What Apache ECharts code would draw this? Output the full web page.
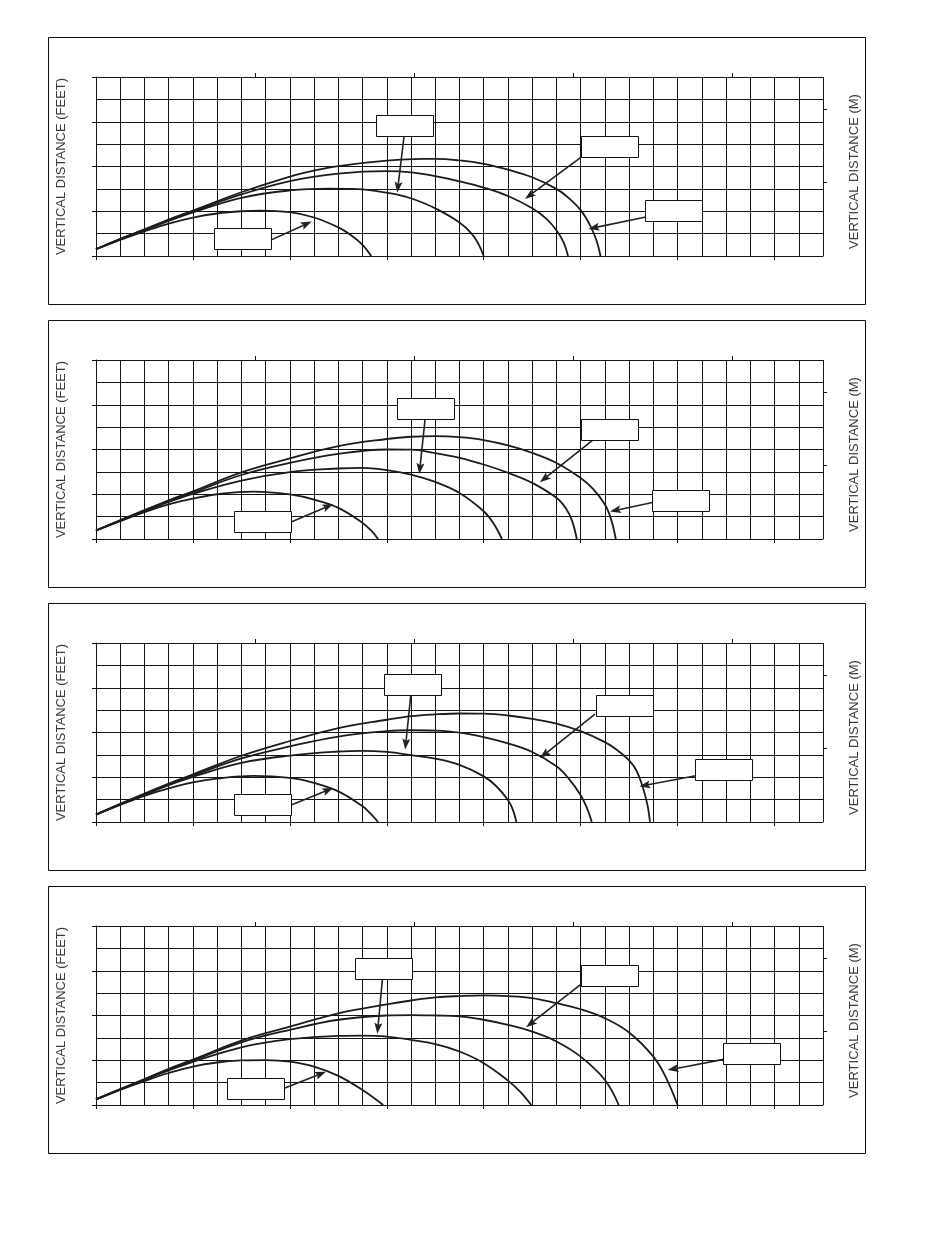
<!DOCTYPE html>
<html>
<head>
<meta charset="utf-8">
<script src="https://cdn.jsdelivr.net/npm/echarts@6/dist/echarts.min.js"></script>
<style>
html, body { margin: 0; padding: 0; background: #fff; }
#chart { width: 950px; height: 1248px; }
</style>
</head>
<body>
<div id="chart"></div>
<script>
// trajectories, [horizontal ft, vertical ft]
var p1A = [[0,0.3],[1,0.72],[2,1.1],[3,1.45],[4,1.72],[5,1.9],[6,2.0],[6.8,2.03],[8,1.96],[9,1.72],[10,1.28],[10.5,0.95],[11,0.5],[11.36,0]];
var p1B = [[0,0.3],[1,0.75],[2,1.15],[3,1.57],[4,1.95],[6,2.6],[8,2.93],[9.6,3.01],[10.6,3.0],[11.7,2.88],[12.4,2.75],[13,2.58],[14,2.13],[15,1.5],[15.5,1.0],[15.8,0.5],[16,0]];
var p1C = [[0,0.3],[1,0.76],[2,1.17],[3,1.6],[4,2.0],[6,2.75],[8,3.35],[10,3.68],[12,3.79],[13,3.74],[14,3.57],[15,3.34],[16,3.06],[17,2.68],[18,2.13],[18.6,1.65],[19,1.15],[19.3,0.6],[19.48,0]];
var p1D = [[0,0.3],[1,0.77],[2,1.19],[3,1.63],[4,2.03],[6,2.85],[8,3.55],[9,3.82],[10,4.02],[12,4.26],[13.5,4.34],[14,4.34],[15,4.27],[16,4.12],[17,3.86],[18,3.52],[19,3.0],[19.5,2.6],[20,2.05],[20.4,1.35],[20.65,0.7],[20.82,0]];

var p2A = [[0,0.38],[1,0.8],[2,1.2],[3,1.55],[4,1.8],[5,2.0],[6.5,2.12],[8,1.99],[9,1.76],[10,1.39],[11,0.72],[11.35,0.38],[11.64,0]];
var p2B = [[0,0.38],[1,0.82],[2,1.24],[3,1.66],[4,2.02],[6,2.61],[8,2.99],[10,3.15],[11,3.18],[12,3.08],[13,2.88],[14,2.55],[15,2.06],[16,1.24],[16.4,0.7],[16.75,0]];
var p2C = [[0,0.38],[1,0.83],[2,1.27],[3,1.7],[4,2.08],[6,2.86],[8,3.4],[10,3.8],[12,4.0],[13,3.99],[14,3.84],[15,3.63],[16,3.33],[17,2.96],[18,2.51],[19,1.84],[19.4,1.35],[19.65,0.8],[19.84,0]];
var p2D = [[0,0.38],[1,0.84],[2,1.29],[3,1.73],[4,2.13],[6,2.98],[8,3.6],[10,4.15],[12,4.47],[13,4.57],[14,4.6],[15,4.55],[16,4.42],[17,4.18],[18,3.85],[19,3.4],[20,2.73],[20.5,2.25],[21,1.54],[21.25,0.9],[21.45,0]];

var p3A = [[0,0.33],[1,0.76],[2,1.17],[3,1.5],[4,1.77],[5,1.94],[6.5,2.06],[8,1.97],[9,1.75],[10,1.37],[11,0.7],[11.35,0.35],[11.64,0]];
var p3B = [[0,0.33],[1,0.79],[2,1.21],[3,1.65],[4,2.02],[6,2.64],[8,2.97],[10,3.15],[11,3.18],[12,3.13],[13,2.99],[14,2.83],[15,2.55],[16,2.04],[16.5,1.62],[17,0.98],[17.2,0.55],[17.35,0]];
var p3C = [[0,0.33],[1,0.8],[2,1.24],[3,1.68],[4,2.08],[6,2.84],[8,3.38],[10,3.82],[12,4.06],[13,4.1],[14,4.08],[15,3.99],[16,3.79],[17,3.51],[18,3.13],[19,2.49],[19.5,1.95],[20,1.2],[20.25,0.65],[20.46,0]];
var p3D = [[0,0.33],[1,0.81],[2,1.27],[3,1.72],[4,2.13],[6,2.96],[8,3.62],[10,4.2],[12,4.57],[13,4.73],[14,4.81],[15,4.85],[16,4.84],[17,4.76],[18,4.61],[19,4.4],[20,4.06],[21,3.57],[21.5,3.22],[22,2.75],[22.3,2.3],[22.55,1.6],[22.75,0.8],[22.86,0]];

var p4A = [[0,0.25],[1,0.68],[2,1.07],[3,1.43],[4,1.72],[5,1.9],[6,1.99],[7,2.01],[8,1.94],[9,1.72],[10,1.3],[11,0.67],[11.85,0]];
var p4B = [[0,0.25],[1,0.7],[2,1.12],[3,1.55],[4,1.93],[6,2.58],[8,2.94],[10,3.09],[11,3.1],[12,3.06],[13,2.91],[14,2.72],[15,2.39],[16,1.87],[17,1.09],[17.5,0.6],[17.96,0]];
var p4C = [[0,0.25],[1,0.7],[2,1.14],[3,1.58],[4,1.98],[6,2.8],[8,3.36],[10,3.81],[12,4.0],[13,4.02],[14,4.0],[15,3.96],[16,3.81],[17,3.58],[18,3.28],[19,2.84],[20,2.16],[21,1.12],[21.57,0]];
var p4D = [[0,0.25],[1,0.71],[2,1.16],[3,1.62],[4,2.03],[6,2.88],[8,3.5],[10,4.1],[12,4.5],[13,4.67],[14,4.81],[15,4.87],[16,4.9],[17,4.87],[18,4.78],[19,4.55],[20,4.28],[21,3.88],[22,3.24],[23,2.16],[23.5,1.27],[24,0]];

// empty label boxes (centre, ft) and their arrows (from x,y -> to x,y, ft)
var p1Boxes = [[12.73,5.84],[21.2,4.9],[23.85,2.02],[6.03,0.77]];
var p1Arrows = [[12.71,5.33,12.43,2.83],[20.02,4.42,17.7,2.55],[22.69,1.74,20.32,1.21],[7.21,0.71,8.9,1.54]];
var p2Boxes = [[13.61,5.83],[21.2,4.89],[24.13,1.72],[6.89,0.77]];
var p2Arrows = [[13.58,5.36,13.34,2.9],[20.5,4.42,18.32,2.54],[22.96,1.63,21.21,1.23],[8.08,0.77,9.79,1.56]];
var p3Boxes = [[13.04,6.13],[21.79,5.2],[25.91,2.35],[6.89,0.77]];
var p3Arrows = [[12.99,5.67,12.76,3.24],[20.59,4.82,18.32,2.86],[24.75,2.07,22.42,1.59],[8.08,0.77,9.79,1.52]];
var p4Boxes = [[11.85,6.1],[21.2,5.81],[27.07,2.31],[6.6,0.72]];
var p4Arrows = [[11.82,5.63,11.61,3.18],[20.02,5.4,17.75,3.48],[25.89,2.04,23.59,1.56],[7.77,0.75,9.49,1.49]];

// axes
var FT_PER_M = 3.28084;
var xMaxFt = 30, yMaxFt = 8;
var xTicksFt = [0, 4, 8, 12, 16, 20, 24, 28];
var xTicksM = [2, 4, 6, 8];
var yTicksFt = [0, 2, 4, 6, 8];
var yTicksM = [1, 2];
var leftName = 'VERTICAL DISTANCE (FEET)';
var rightName = 'VERTICAL DISTANCE (M)';

var panels = [
  { curves: [p1A, p1B, p1C, p1D], boxes: p1Boxes, arrows: p1Arrows },
  { curves: [p2A, p2B, p2C, p2D], boxes: p2Boxes, arrows: p2Arrows },
  { curves: [p3A, p3B, p3C, p3D], boxes: p3Boxes, arrows: p3Arrows },
  { curves: [p4A, p4B, p4C, p4D], boxes: p4Boxes, arrows: p4Arrows }
];

var ink = '#141414';
var gridLine = { color: ink, width: 1 };
var nameFont = { fontFamily: 'Liberation Sans, Arial, sans-serif', fontSize: 13, color: '#3a3a3a' };
var noLabel = { show: false };

var chart = echarts.init(document.getElementById('chart'));
var grids = [], xAxes = [], yAxes = [], series = [], graphics = [];

panels.forEach(function (p, i) {
  var step = 283;
  grids.push({ left: 96, top: 77 + step * i, width: 727, height: 179 });
  graphics.push({
    type: 'rect', silent: true,
    shape: { x: 48.5, y: 37.5 + step * i, width: 817, height: 267 },
    style: { fill: 'none', stroke: '#111', lineWidth: 1 }
  });

  // feet, bottom: 1 ft grid
  xAxes.push({
    gridIndex: i, type: 'value', position: 'bottom', min: 0, max: xMaxFt, interval: 1,
    axisLine: { show: true, onZero: false, lineStyle: gridLine },
    axisTick: { show: false }, axisLabel: noLabel,
    splitLine: { show: true, lineStyle: gridLine }
  });
  // feet, bottom: ticks
  xAxes.push({
    gridIndex: i, type: 'value', position: 'bottom', min: 0, max: xMaxFt, interval: 4,
    axisLine: { show: false, onZero: false },
    axisTick: { show: true, customValues: xTicksFt, length: 4, lineStyle: gridLine },
    axisLabel: noLabel, splitLine: { show: false }
  });
  // metres, top
  xAxes.push({
    gridIndex: i, type: 'value', position: 'top', min: 0, max: xMaxFt / FT_PER_M,
    axisLine: { show: false, onZero: false },
    axisTick: { show: true, customValues: xTicksM, length: 4, lineStyle: gridLine },
    axisLabel: noLabel, splitLine: { show: false }
  });

  // feet, left: 1 ft grid + name
  yAxes.push({
    gridIndex: i, type: 'value', position: 'left', min: 0, max: yMaxFt, interval: 1,
    name: leftName, nameLocation: 'middle', nameGap: 28, nameTextStyle: nameFont,
    axisLine: { show: true, onZero: false, lineStyle: gridLine },
    axisTick: { show: false }, axisLabel: noLabel,
    splitLine: { show: true, lineStyle: gridLine }
  });
  // feet, left: ticks
  yAxes.push({
    gridIndex: i, type: 'value', position: 'left', min: 0, max: yMaxFt, interval: 2,
    axisLine: { show: false, onZero: false },
    axisTick: { show: true, customValues: yTicksFt, length: 4, lineStyle: gridLine },
    axisLabel: noLabel, splitLine: { show: false }
  });
  // metres, right
  yAxes.push({
    gridIndex: i, type: 'value', position: 'right', min: 0, max: yMaxFt / FT_PER_M,
    name: rightName, nameLocation: 'middle', nameGap: 25,
    nameTextStyle: Object.assign({ padding: [0, 10, 0, 0] }, nameFont),
    axisLine: { show: false, onZero: false },
    axisTick: { show: true, customValues: yTicksM, length: 4, lineStyle: gridLine },
    axisLabel: noLabel, splitLine: { show: false }
  });

  var ax = 3 * i;
  p.curves.forEach(function (c) {
    series.push({
      type: 'line', xAxisIndex: ax, yAxisIndex: ax, data: c,
      smooth: 0.4, showSymbol: false, symbol: 'none',
      lineStyle: { color: '#1c1c1c', width: 1.8 }, z: 3, silent: true
    });
  });

  series.push({
    type: 'custom', xAxisIndex: ax, yAxisIndex: ax, data: p.arrows, z: 4, silent: true,
    renderItem: function (params, api) {
      var a = api.coord([api.value(0), api.value(1)]);
      var b = api.coord([api.value(2), api.value(3)]);
      var dx = b[0] - a[0], dy = b[1] - a[1];
      var len = Math.sqrt(dx * dx + dy * dy);
      var ux = dx / len, uy = dy / len;
      var hl = 11, hw = 4;
      var bx = b[0] - ux * hl, by = b[1] - uy * hl;
      var nx = b[0] - ux * hl * 0.8, ny = b[1] - uy * hl * 0.8;
      return {
        type: 'group',
        children: [
          { type: 'line', shape: { x1: a[0], y1: a[1], x2: nx, y2: ny }, style: { stroke: '#222', lineWidth: 1.6 } },
          { type: 'polygon', shape: { points: [[b[0], b[1]], [bx - uy * hw, by + ux * hw], [nx, ny], [bx + uy * hw, by - ux * hw]] }, style: { fill: '#222' } }
        ]
      };
    }
  });

  series.push({
    type: 'custom', xAxisIndex: ax, yAxisIndex: ax, data: p.boxes, z: 5, silent: true,
    renderItem: function (params, api) {
      var c = api.coord([api.value(0), api.value(1)]);
      return {
        type: 'rect',
        shape: { x: Math.round(c[0] - 28.5) + 0.5, y: Math.round(c[1] - 10.5) + 0.5, width: 57, height: 21 },
        style: { fill: '#fff', stroke: '#111', lineWidth: 1 }
      };
    }
  });
});

chart.setOption({
  animation: false,
  backgroundColor: '#fff',
  grid: grids,
  xAxis: xAxes,
  yAxis: yAxes,
  series: series,
  graphic: graphics
});
</script>
</body>
</html>
